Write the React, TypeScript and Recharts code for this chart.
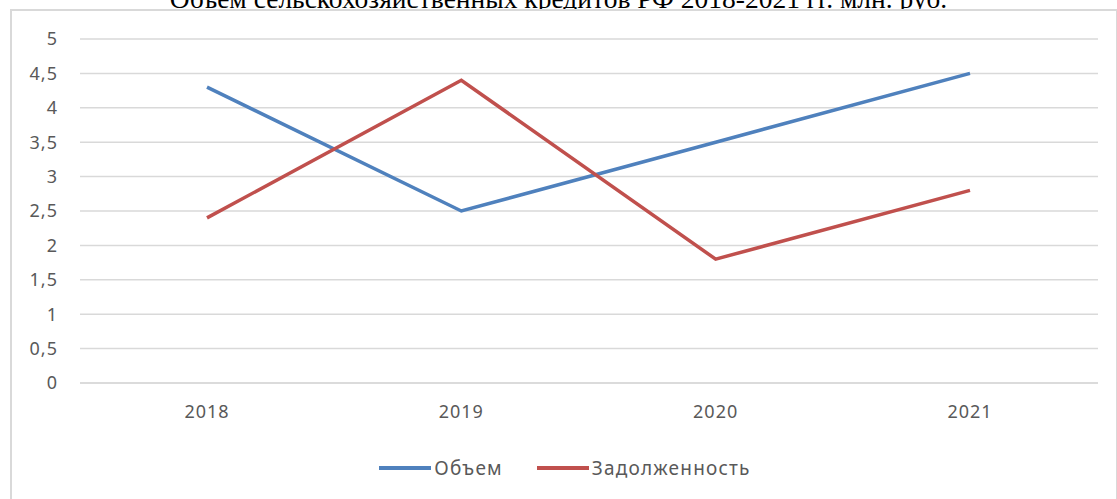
import React from "react";
import { LineChart, Line, XAxis, YAxis, CartesianGrid, Legend } from "recharts";

const years = ["2018", "2019", "2020", "2021"];
const volume = [4.3, 2.5, 3.5, 4.5];
const debt = [2.4, 4.4, 1.8, 2.8];
const yTicks = [0, 0.5, 1, 1.5, 2, 2.5, 3, 3.5, 4, 4.5, 5];

const chartData = years.map((year, i) => ({
  year,
  volume: volume[i],
  debt: debt[i],
}));

const axisFont = { fill: "#595959", fontSize: 18, fontFamily: "Noto Sans", letterSpacing: 1 };

function ChartLegend() {
  const items = [
    { label: "Объем", color: "#4F81BD" },
    { label: "Задолженность", color: "#C0504D" },
  ];
  return (
    <div
      style={{
        display: "flex",
        justifyContent: "center",
        gap: 34,
        paddingLeft: 22,
        fontFamily: "Noto Sans",
        fontSize: 19,
        letterSpacing: 1.2,
        color: "#595959",
      }}
    >
      {items.map(item => (
        <div key={item.label} style={{ display: "flex", alignItems: "center" }}>
          <span style={{ display: "inline-block", width: 52, height: 4, background: item.color, marginRight: 3 }} />
          <span>{item.label}</span>
        </div>
      ))}
    </div>
  );
}

export default function App() {
  return (
    <div style={{ position: "absolute", left: 0, top: 0, width: 1117, height: 499, overflow: "hidden", background: "#fff" }}>
      <div
        style={{
          position: "absolute",
          left: 0,
          top: -17,
          width: 1117,
          textAlign: "center",
          fontFamily: "Liberation Serif",
          fontSize: 27.5,
          color: "#000",
          whiteSpace: "nowrap",
        }}
      >
        Объем сельскохозяйственных кредитов РФ 2018-2021 гг. млн. руб.
      </div>
      <div
        style={{
          position: "absolute",
          left: 10,
          top: 9,
          width: 1104,
          height: 520,
          border: "2px solid #d9d9d9",
          background: "#fff",
        }}
      />
      <div style={{ position: "absolute", left: 0, top: 0 }}>
        <LineChart width={1117} height={499} data={chartData} margin={{ top: 39, right: 19, bottom: 66, left: 10 }}>
          <CartesianGrid vertical={false} stroke="#d9d9d9" strokeWidth={1.5} />
          <XAxis
            dataKey="year"
            tick={axisFont}
            tickLine={false}
            axisLine={{ stroke: "#d9d9d9", strokeWidth: 1.5 }}
            tickMargin={16}
            height={30}
            padding={{ left: 127, right: 128 }}
          />
          <YAxis
            domain={[0, 5]}
            ticks={yTicks}
            tick={axisFont}
            tickLine={false}
            axisLine={false}
            tickMargin={16}
            width={70}
            tickFormatter={(v: number) => String(v).replace(".", ",")}
          />
          <Legend verticalAlign="bottom" height={20} wrapperStyle={{ bottom: 24 }} content={() => <ChartLegend />} />
          <Line dataKey="volume" name="Объем" stroke="#4F81BD" strokeWidth={3.5} dot={false} isAnimationActive={false} />
          <Line dataKey="debt" name="Задолженность" stroke="#C0504D" strokeWidth={3.5} dot={false} isAnimationActive={false} />
        </LineChart>
      </div>
    </div>
  );
}
